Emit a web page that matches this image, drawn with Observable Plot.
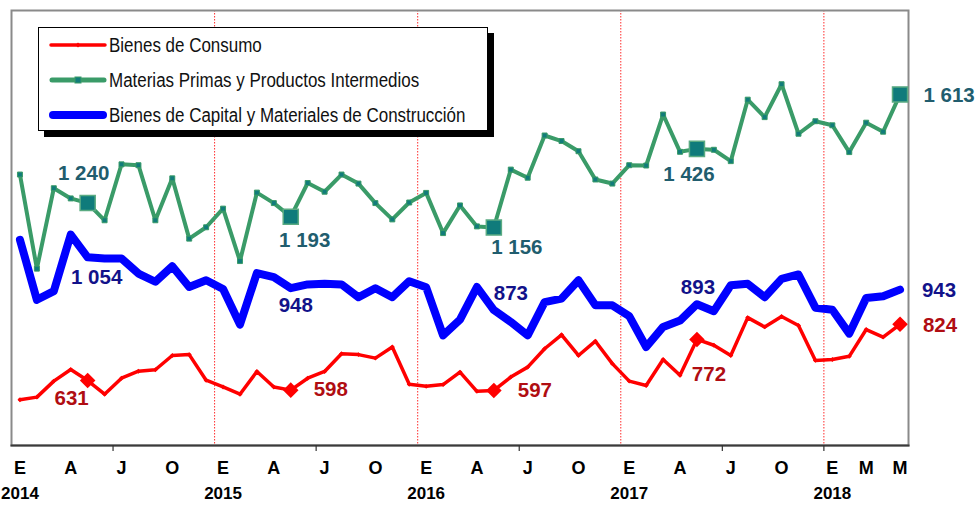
<!DOCTYPE html>
<html>
<head>
<meta charset="utf-8">
<script src="https://cdn.jsdelivr.net/npm/d3@7"></script>
<script src="https://cdn.jsdelivr.net/npm/@observablehq/plot@0.6"></script>
<style>
  html, body { margin: 0; padding: 0; background: #fff; }
  #wrap { position: relative; width: 979px; height: 506px; }
  #legend { position: absolute; left: 38px; top: 27px; width: 450px; height: 104px; box-sizing: border-box;
    border: 1.5px solid #000; background: #fff; box-shadow: 6px 6px 0 #000; overflow: hidden; }
  .row { position: absolute; left: 0; height: 30px; display: flex; align-items: center; }
  .row svg { width: 60px; height: 14px; margin-left: 9px; flex: none; }
  .row span { font-family: "Liberation Sans", Arial, sans-serif; display: inline-block;
    font-size: 19.5px; color: #111; white-space: nowrap; transform: scaleX(0.87); transform-origin: left center; margin-left: 1px; }
</style>
</head>
<body>
<div id="wrap"></div>
<script>
// ---- data ----
const months = [
  "2014-01","2014-02","2014-03","2014-04","2014-05","2014-06","2014-07","2014-08","2014-09","2014-10","2014-11","2014-12",
  "2015-01","2015-02","2015-03","2015-04","2015-05","2015-06","2015-07","2015-08","2015-09","2015-10","2015-11","2015-12",
  "2016-01","2016-02","2016-03","2016-04","2016-05","2016-06","2016-07","2016-08","2016-09","2016-10","2016-11","2016-12",
  "2017-01","2017-02","2017-03","2017-04","2017-05","2017-06","2017-07","2017-08","2017-09","2017-10","2017-11","2017-12",
  "2018-01","2018-02","2018-03","2018-04","2018-05"
];
const seriesNames = [
  "Bienes de Consumo",
  "Materias Primas y Productos Intermedios",
  "Bienes de Capital y Materiales de Construcción"
];
const consumo = [
  565,574,629,669,631,584,639,663,668,717,720,632,
  609,584,662,609,598,639,662,723,720,708,746,618,
  611,617,660,594,597,643,677,740,788,717,766,689,
  629,614,703,649,772,752,717,847,815,851,820,700,
  703,714,806,780,824
];
const materias = [
  1338,1015,1291,1256,1240,1181,1373,1370,1181,1325,1118,1157,
  1221,1041,1276,1240,1193,1309,1279,1338,1307,1240,1184,1242,
  1275,1137,1232,1160,1156,1355,1327,1472,1453,1418,1321,1307,
  1370,1369,1544,1416,1426,1423,1384,1595,1535,1648,1478,1521,
  1507,1415,1516,1485,1613
];
const capital = [
  1114,908,938,1132,1054,1050,1050,998,970,1023,952,975,
  945,823,1000,986,948,961,963,961,917,948,917,972,
  951,786,840,952,873,832,786,900,912,975,889,889,
  852,746,815,837,893,869,958,963,917,980,995,881,
  874,792,914,920,943
];
const labeledMonths = ["2014-05","2015-05","2016-05","2017-05","2018-05"];
const monthTicks = ["2014-01","2014-04","2014-07","2014-10","2015-01","2015-04","2015-07","2015-10",
  "2016-01","2016-04","2016-07","2016-10","2017-01","2017-04","2017-07","2017-10","2018-01","2018-03","2018-05"];
const monthLetters = ["E","F","M","A","M","J","J","A","S","O","N","D"];
const yearTicks = ["2014-01","2015-01","2016-01","2017-01","2018-01"];
const tickMarkMonths = ["2014-06","2015-06","2016-06","2017-06","2017-12"];

// ---- build ----
const fmt = d3.formatLocale({decimal: ",", thousands: "\u00a0", grouping: [3], currency: ["", ""]}).format(",d");
const idx = months.map((m, i) => i);
const ix = m => months.indexOf(m);
const labIdx = labeledMonths.map(ix);

const C = {
  red: "#ff0000", redLab: "#b00d12",
  green: "#3a9b68", greenDark: "#117c7a", greenLab: "#215d6e",
  blue: "#0000ff", blueLab: "#12128a"
};

// label offsets (dx, dy) per labeled point
const offGreen = [[-4,-30],[14,24],[23,20],[-8,26],[49,1]];
const offBlue  = [[9,20],[5,17],[17,-17],[1,-17],[39,1]];
const offRed   = [[-16,18],[40,-1],[41,0],[12,35],[40,1]];

const font = "Liberation Sans, Arial, sans-serif";

const labelMarks = [];
[[materias, offGreen, C.greenLab],[capital, offBlue, C.blueLab],[consumo, offRed, C.redLab]].forEach(([vals, offs, col]) => {
  labIdx.forEach((i, k) => {
    labelMarks.push(Plot.text([i], {
      x: d => d, y: d => vals[d], text: d => fmt(vals[d]),
      dx: offs[k][0], dy: offs[k][1], fill: col, fontWeight: "bold", fontSize: 20.5,
      fontFamily: font, textAnchor: "middle", lineAnchor: "middle"
    }));
  });
});

const chart = Plot.plot({
  width: 979, height: 506,
  marginLeft: 11, marginRight: 71, marginTop: 10, marginBottom: 61,
  x: {type: "linear", domain: [-0.5, months.length - 0.5], axis: null},
  y: {domain: [408, 1901], axis: null},
  marks: [
    Plot.ruleX(yearTicks.slice(1).map(m => ix(m) - 0.5), {stroke: "#ff2a2a", strokeWidth: 1, strokeDasharray: "1.5,1.5"}),
    Plot.frame({stroke: "#8a8a8a", strokeWidth: 2}),
    Plot.frame({anchor: "bottom", stroke: "#3a3a3a", strokeWidth: 2}),
    Plot.axisX(tickMarkMonths.map(m => ix(m) + 0.5), {tickSize: 6, tickFormat: () => "", stroke: "#333", strokeWidth: 1.2}),
    // lines
    Plot.line(idx, {x: d => d, y: d => capital[d], stroke: C.blue, strokeWidth: 8, strokeLinejoin: "round", strokeLinecap: "round"}),
    Plot.line(idx, {x: d => d, y: d => materias[d], stroke: C.green, strokeWidth: 4, strokeLinejoin: "miter"}),
    Plot.dot(idx, {x: d => d, y: d => materias[d], symbol: "square", r: 2.8, fill: C.greenDark, stroke: C.green, strokeWidth: 1}),
    Plot.line(idx, {x: d => d, y: d => consumo[d], stroke: C.red, strokeWidth: 3.5, strokeLinejoin: "round"}),
    Plot.dot(idx, {x: d => d, y: d => consumo[d], symbol: "diamond2", r: 2.2, fill: C.red}),
    // highlighted points
    Plot.dot(labIdx, {x: d => d, y: d => materias[d], symbol: "square", r: 8.5, fill: "#0f7b7b", stroke: "#5aab82", strokeWidth: 1.5}),
    Plot.dot(labIdx, {x: d => d, y: d => consumo[d], symbol: "diamond2", r: 7, fill: C.red}),
    ...labelMarks,
    // axis labels
    Plot.text(monthTicks.map(ix), {x: d => d, frameAnchor: "bottom", dy: 28,
      text: d => monthLetters[+months[d].slice(5) - 1], fontWeight: "bold", fontSize: 18, fontFamily: font, fill: "#000"}),
    Plot.text(yearTicks.map(ix), {x: d => d, frameAnchor: "bottom", dy: 53,
      text: d => months[d].slice(0, 4), fontWeight: "bold", fontSize: 17, fontFamily: font, fill: "#000"})
  ]
});

const wrap = document.getElementById("wrap");
wrap.appendChild(chart);

// legend overlay
const legend = document.createElement("div");
legend.id = "legend";
const samples = [
  `<line x1="2" y1="7" x2="56" y2="7" stroke="${C.red}" stroke-width="3.5" stroke-linecap="round"/><path d="M29 4.5 L31.5 7 L29 9.5 L26.5 7Z" fill="${C.red}"/>`,
  `<line x1="3" y1="7" x2="55" y2="7" stroke="${C.green}" stroke-width="5" stroke-linecap="round"/><rect x="26" y="4" width="6" height="6" fill="${C.greenDark}" stroke="${C.green}"/>`,
  `<line x1="4" y1="7" x2="54" y2="7" stroke="${C.blue}" stroke-width="8" stroke-linecap="round"/>`
];
const rowTops = [2, 37, 72];
seriesNames.forEach((name, k) => {
  const r = document.createElement("div");
  r.className = "row";
  r.style.top = rowTops[k] + "px";
  r.innerHTML = `<svg viewBox="0 0 58 14">${samples[k]}</svg><span>${name}</span>`;
  legend.appendChild(r);
});
wrap.appendChild(legend);
</script>
</body>
</html>
